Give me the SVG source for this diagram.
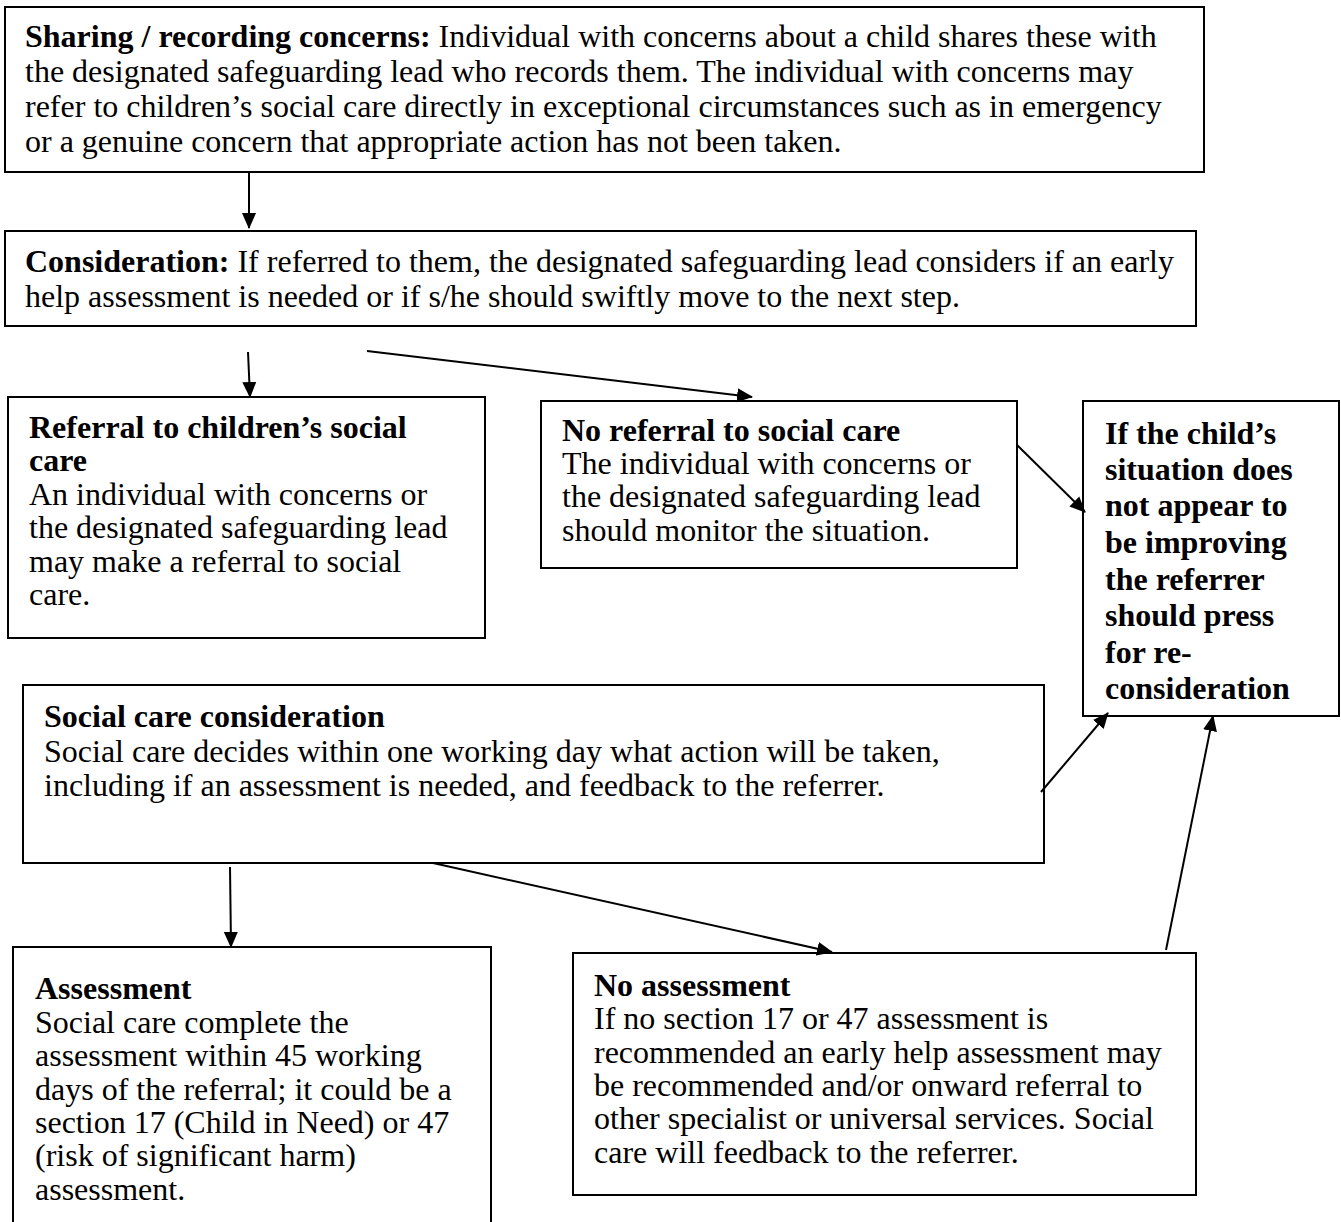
<svg xmlns="http://www.w3.org/2000/svg" width="1341" height="1222" viewBox="0 0 1341 1222">
<style>
  .box { fill: #ffffff; stroke: #000000; stroke-width: 2; }
  text { font-family: "Liberation Serif", "Times New Roman", serif; font-size: 32px; fill: #000000; }
  .b { font-weight: bold; }
  .conn line { stroke: #000000; stroke-width: 2; marker-end: url(#arrow); }
</style>
<defs>
  <marker id="arrow" viewBox="0 0 16 16" refX="15" refY="8" markerWidth="16" markerHeight="16" markerUnits="userSpaceOnUse" orient="auto">
    <path d="M0,1 L16,8 L0,15 Z" fill="#000000"/>
  </marker>
</defs>
<rect width="1341" height="1222" fill="#ffffff"/>

<g id="node-sharing">
  <rect class="box" x="5" y="7" width="1199" height="165"/>
  <text x="25" y="47"><tspan class="b">Sharing / recording concerns:</tspan> Individual with concerns about a child shares these with</text>
  <text x="25" y="82">the designated safeguarding lead who records them. The individual with concerns may</text>
  <text x="25" y="117">refer to children’s social care directly in exceptional circumstances such as in emergency</text>
  <text x="25" y="152">or a genuine concern that appropriate action has not been taken.</text>
</g>

<g id="node-consideration">
  <rect class="box" x="5" y="231" width="1191" height="95"/>
  <text x="25" y="272"><tspan class="b">Consideration:</tspan> If referred to them, the designated safeguarding lead considers if an early</text>
  <text x="25" y="307">help assessment is needed or if s/he should swiftly move to the next step.</text>
</g>

<g id="node-referral">
  <rect class="box" x="8" y="397" width="477" height="241"/>
  <text class="b" x="29" y="438">Referral to children’s social</text>
  <text class="b" x="29" y="471">care</text>
  <text x="29" y="505">An individual with concerns or</text>
  <text x="29" y="538">the designated safeguarding lead</text>
  <text x="29" y="572">may make a referral to social</text>
  <text x="29" y="605">care.</text>
</g>

<g id="node-no-referral">
  <rect class="box" x="541" y="401" width="476" height="167"/>
  <text class="b" x="562" y="441">No referral to social care</text>
  <text x="562" y="474">The individual with concerns or</text>
  <text x="562" y="507">the designated safeguarding lead</text>
  <text x="562" y="541">should monitor the situation.</text>
</g>

<g id="node-reconsideration">
  <rect class="box" x="1083" y="401" width="256" height="315"/>
  <text class="b" x="1105" y="444">If the child’s</text>
  <text class="b" x="1105" y="480">situation does</text>
  <text class="b" x="1105" y="516">not appear to</text>
  <text class="b" x="1105" y="553">be improving</text>
  <text class="b" x="1105" y="590">the referrer</text>
  <text class="b" x="1105" y="626">should press</text>
  <text class="b" x="1105" y="663">for re-</text>
  <text class="b" x="1105" y="699">consideration</text>
</g>

<g id="node-social-care-consideration">
  <rect class="box" x="23" y="685" width="1021" height="178"/>
  <text class="b" x="44" y="727">Social care consideration</text>
  <text x="44" y="762">Social care decides within one working day what action will be taken,</text>
  <text x="44" y="796">including if an assessment is needed, and feedback to the referrer.</text>
</g>

<g id="node-assessment">
  <rect class="box" x="13" y="947" width="478" height="300"/>
  <text class="b" x="35" y="999">Assessment</text>
  <text x="35" y="1033">Social care complete the</text>
  <text x="35" y="1066">assessment within 45 working</text>
  <text x="35" y="1100">days of the referral; it could be a</text>
  <text x="35" y="1133">section 17 (Child in Need) or 47</text>
  <text x="35" y="1166">(risk of significant harm)</text>
  <text x="35" y="1200">assessment.</text>
</g>

<g id="node-no-assessment">
  <rect class="box" x="573" y="953" width="623" height="242"/>
  <text class="b" x="594" y="996">No assessment</text>
  <text x="594" y="1029">If no section 17 or 47 assessment is</text>
  <text x="594" y="1063">recommended an early help assessment may</text>
  <text x="594" y="1096">be recommended and/or onward referral to</text>
  <text x="594" y="1129">other specialist or universal services. Social</text>
  <text x="594" y="1163">care will feedback to the referrer.</text>
</g>

<g id="connectors" class="conn">
  <line x1="249" y1="172" x2="249" y2="228"/>
  <line x1="248" y1="352" x2="250" y2="397"/>
  <line x1="367" y1="351" x2="752" y2="397"/>
  <line x1="1017" y1="445" x2="1085" y2="512"/>
  <line x1="1041" y1="792" x2="1108" y2="713"/>
  <line x1="1166" y1="950" x2="1213" y2="716"/>
  <line x1="230" y1="867" x2="231" y2="947"/>
  <line x1="433" y1="863" x2="832" y2="952"/>
</g>
</svg>
